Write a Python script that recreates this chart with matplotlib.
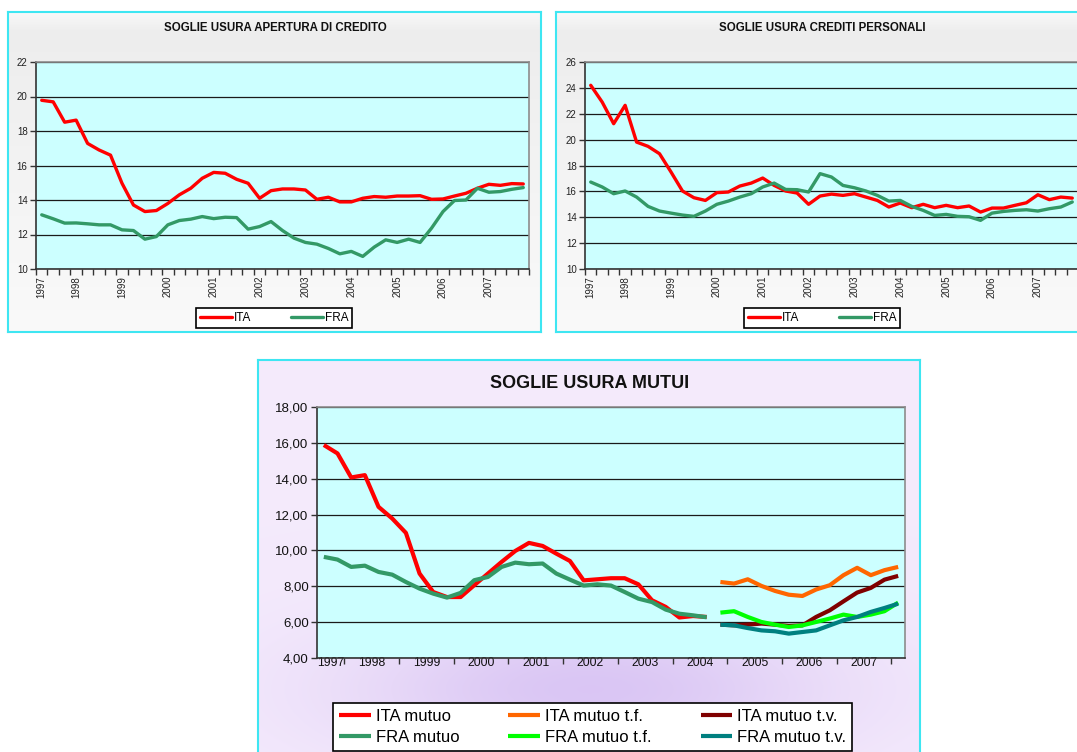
import numpy as np
import matplotlib.pyplot as plt

plt.rcParams['font.family'] = ['Liberation Sans', 'DejaVu Sans']

# quarterly categories, 1997Q2 .. 2007Q4
quarters = [f"{y}Q{q}" for y in range(1997, 2008) for q in range(1, 5)][1:]
years = [str(y) for y in range(1997, 2008)]

# apertura di credito
apertura_ita = [19.78, 19.69, 18.51, 18.63, 17.28, 16.90, 16.60, 14.97, 13.71, 13.33,
                13.39, 13.80, 14.30, 14.68, 15.26, 15.60, 15.55, 15.20, 14.97, 14.10,
                14.54, 14.64, 14.64, 14.58, 14.04, 14.16, 13.89, 13.89, 14.10, 14.20,
                14.16, 14.23, 14.23, 14.25, 14.04, 14.06, 14.23, 14.39, 14.68, 14.91,
                14.85, 14.95, 14.93]
apertura_fra = [13.14, 12.91, 12.66, 12.67, 12.62, 12.56, 12.56, 12.27, 12.23, 11.73,
                11.88, 12.56, 12.81, 12.89, 13.04, 12.92, 13.00, 12.98, 12.31, 12.46,
                12.75, 12.23, 11.79, 11.54, 11.44, 11.19, 10.88, 11.02, 10.73, 11.27,
                11.69, 11.54, 11.73, 11.54, 12.37, 13.33, 13.97, 14.00, 14.68, 14.45,
                14.49, 14.62, 14.72]

# crediti personali
personali_ita = [24.20, 22.90, 21.23, 22.65, 19.81, 19.48, 18.91, 17.50, 16.03, 15.51,
                 15.30, 15.90, 15.95, 16.41, 16.64, 17.03, 16.46, 16.03, 15.87, 15.00,
                 15.64, 15.79, 15.69, 15.82, 15.56, 15.30, 14.79, 15.10, 14.74, 15.00,
                 14.74, 14.92, 14.74, 14.87, 14.40, 14.71, 14.71, 14.92, 15.12, 15.74,
                 15.36, 15.56, 15.48]
personali_fra = [16.72, 16.34, 15.82, 16.03, 15.56, 14.84, 14.48, 14.32, 14.17, 14.07,
                 14.48, 15.00, 15.25, 15.56, 15.82, 16.34, 16.64, 16.15, 16.13, 15.95,
                 17.37, 17.11, 16.46, 16.28, 16.03, 15.69, 15.25, 15.30, 14.84, 14.53,
                 14.14, 14.22, 14.07, 14.04, 13.76, 14.32, 14.45, 14.53, 14.58, 14.48,
                 14.66, 14.79, 15.18]

# mutui: single rate up to 2004Q2, then fixed (t.f.) / variable (t.v.)
mutuo_ita = [15.88, 15.41, 14.07, 14.20, 12.43, 11.78, 10.98, 8.71, 7.68, 7.40,
             7.40, 8.06, 8.71, 9.36, 9.97, 10.42, 10.25, 9.82, 9.41, 8.33,
             8.39, 8.45, 8.45, 8.11, 7.22, 6.85, 6.26, 6.34, 6.29]
mutuo_fra = [9.64, 9.49, 9.08, 9.15, 8.80, 8.65, 8.24, 7.87, 7.59, 7.37,
             7.63, 8.34, 8.52, 9.08, 9.32, 9.23, 9.27, 8.71, 8.37, 8.04,
             8.11, 8.04, 7.68, 7.31, 7.12, 6.70, 6.47, 6.38, 6.27]
mutuo_ita_tf = [8.24, 8.15, 8.39, 8.02, 7.74, 7.53, 7.46, 7.82, 8.06, 8.62, 9.03, 8.62, 8.90, 9.08]
mutuo_ita_tv = [5.86, 5.82, 5.86, 5.92, 5.86, 5.79, 5.82, 6.29, 6.66, 7.16, 7.65, 7.91, 8.37, 8.58]
mutuo_fra_tf = [6.53, 6.61, 6.29, 6.01, 5.86, 5.73, 5.82, 6.01, 6.20, 6.42, 6.29, 6.42, 6.61, 7.09]
mutuo_fra_tv = [5.86, 5.82, 5.67, 5.54, 5.49, 5.36, 5.45, 5.54, 5.82, 6.10, 6.29, 6.57, 6.79, 7.03]
split_start = quarters.index('2004Q3')

W, H = 1077, 752
fig = plt.figure(figsize=(W / 100, H / 100), dpi=100)
fig.patch.set_facecolor('white')

RED = '#ff0000'
GREEN = '#339966'
ORANGE = '#ff6600'
DARKRED = '#800000'
LIME = '#00ff00'
TEAL = '#008080'
PLOT_BG = '#ccffff'

n = len(quarters)
xq = np.arange(n)
year_pos = np.array([[q[:4] for q in quarters].index(y) for y in years])


def px_axes(x0, y0, x1, y1, **kw):
    # axes placed in pixel coordinates (origin top-left)
    return fig.add_axes([x0 / W, 1 - y1 / H, (x1 - x0) / W, (y1 - y0) / H], **kw)


def panel(x0, y0, x1, y1, img):
    bg = px_axes(x0, y0, x1, y1, zorder=0)
    bg.imshow(img, aspect='auto', extent=(0, 1, 0, 1), interpolation='bilinear')
    bg.set_xticks([])
    bg.set_yticks([])
    for s in bg.spines.values():
        s.set_color('#3ee6f2')
        s.set_linewidth(1.5)
    return bg


def grey_gradient(h=200, w=50):
    t = np.linspace(0, 1, h)
    v = np.interp(t, [0, 0.06, 0.25, 1], [0.975, 0.93, 0.94, 0.98])
    return np.repeat(np.repeat(v[:, None], w, axis=1)[:, :, None], 3, axis=2)


def lavender_gradient(h=200, w=200, x0=258, x1=920, y0=360, y1=766):
    xs = np.linspace(x0, x1, w)
    ys = np.linspace(y0, y1, h)
    X, Y = np.meshgrid(xs, ys)
    base = np.array([0.957, 0.918, 0.988])
    glow = np.array([0.855, 0.776, 0.957])
    wgt = np.exp(-((X - 590) / 240) ** 2 - ((Y - 690) / 75) ** 2)
    return base[None, None, :] * (1 - wgt[:, :, None]) + glow[None, None, :] * wgt[:, :, None]


def style_spines(ax):
    ax.spines['left'].set_color('#333333')
    ax.spines['bottom'].set_color('#333333')
    ax.spines['top'].set_color('#8c8c8c')
    ax.spines['right'].set_color('#8c8c8c')
    for s in ax.spines.values():
        s.set_linewidth(1.2)


def top_chart(px0, px1, title, title_x, ita, fra, ylo, yhi, leg_x):
    ax = px_axes(px0, 62, px1, 269, zorder=2)
    ax.set_facecolor(PLOT_BG)
    l1, = ax.plot(xq, ita, color=RED, lw=2.4, label='ITA',
                  solid_joinstyle='round', solid_capstyle='round')
    l2, = ax.plot(xq, fra, color=GREEN, lw=2.4, label='FRA',
                  solid_joinstyle='round', solid_capstyle='round')
    ax.set_xlim(-0.5, n - 0.5)
    ax.set_ylim(ylo, yhi)
    ax.set_yticks(np.arange(ylo, yhi + 1, 2))
    ax.yaxis.grid(True, color='#1a1a1a', lw=0.9)
    ax.set_axisbelow(True)
    ax.set_xticks(year_pos)
    ax.set_xticklabels(years, rotation=90, fontsize=7, color='#222222')
    ax.tick_params(axis='x', which='major', length=0, pad=5)
    ax.set_xticks(np.arange(-0.5, n), minor=True)
    ax.tick_params(axis='x', which='minor', length=4, width=1, color='#333333')
    ax.tick_params(axis='y', labelsize=7, length=4, width=1, color='#333333',
                   pad=2, labelcolor='#222222')
    style_spines(ax)
    fig.text(title_x / W, 1 - 28 / H, title, ha='center', va='center',
             fontsize=8.3, fontweight='bold', color='#111111')
    leg = ax.legend(handles=[l1, l2], loc='center', bbox_to_anchor=(leg_x / W, 1 - 318 / H),
                    bbox_transform=fig.transFigure, ncol=2, fontsize=8.5, frameon=True,
                    fancybox=False, edgecolor='black', framealpha=1, handlelength=2.7,
                    handletextpad=0.15, columnspacing=3.4, borderpad=0.35)
    leg.get_frame().set_linewidth(1.2)
    return ax


# background panels
panel(8, 12, 541, 332, grey_gradient())
panel(556, 12, 1095, 332, grey_gradient())
panel(258, 360, 920, 766, lavender_gradient())

top_chart(36, 529, 'SOGLIE USURA APERTURA DI CREDITO', 275,
          apertura_ita, apertura_fra, 10, 22, 274)
top_chart(585, 1078, 'SOGLIE USURA CREDITI PERSONALI', 822,
          personali_ita, personali_fra, 10, 26, 822)

# mutui chart
ax = px_axes(317, 407, 905, 658, zorder=2)
ax.set_facecolor(PLOT_BG)
kw = dict(lw=3.0, solid_joinstyle='round', solid_capstyle='butt')
h_ita, = ax.plot(xq[:len(mutuo_ita)], mutuo_ita, color=RED, label='ITA mutuo', **kw)
xs = xq[split_start:split_start + len(mutuo_ita_tf)]
h_ita_tf, = ax.plot(xs, mutuo_ita_tf, color=ORANGE, label='ITA mutuo t.f.', **kw)
h_ita_tv, = ax.plot(xs, mutuo_ita_tv, color=DARKRED, label='ITA mutuo t.v.', **kw)
h_fra, = ax.plot(xq[:len(mutuo_fra)], mutuo_fra, color=GREEN, label='FRA mutuo', **kw)
h_fra_tf, = ax.plot(xs, mutuo_fra_tf, color=LIME, label='FRA mutuo t.f.', **kw)
h_fra_tv, = ax.plot(xs, mutuo_fra_tv, color=TEAL, label='FRA mutuo t.v.', **kw)

ax.set_xlim(-0.5, n - 0.5)
ax.set_ylim(4, 18)
yt = np.arange(4, 19, 2)
ax.set_yticks(yt)
ax.set_yticklabels([f"{v:.2f}".replace('.', ',') for v in yt])
ax.yaxis.grid(True, color='#1a1a1a', lw=0.9)
ax.set_axisbelow(True)
ax.set_xticks(year_pos + 0.5)
ax.set_xticklabels(years, fontsize=8.8, color='#111111')
ax.tick_params(axis='x', which='major', length=0, pad=-1)
ax.set_xticks(np.arange(1.5, n, 4), minor=True)
ax.tick_params(axis='x', which='minor', length=4, width=1, color='#333333')
ax.tick_params(axis='y', labelsize=9.5, length=4, width=1, color='#333333', pad=2,
               labelcolor='#111111')
style_spines(ax)

fig.text(590 / W, 1 - 383 / H, 'SOGLIE USURA MUTUI', ha='center', va='center',
         fontsize=13, fontweight='bold', color='#111111')

leg = ax.legend(handles=[h_ita, h_fra, h_ita_tf, h_fra_tf, h_ita_tv, h_fra_tv],
                loc='upper left', bbox_to_anchor=(333 / W, 0, 519 / W, 1 - 703 / H),
                bbox_transform=fig.transFigure, mode='expand', ncol=3, fontsize=12,
                frameon=True, fancybox=False, edgecolor='black', framealpha=1,
                handlelength=1.9, handletextpad=0.3, borderpad=0.35, labelspacing=0.35,
                borderaxespad=0)
leg.get_frame().set_linewidth(1.2)

fig.savefig('out.png', dpi=100, facecolor='white')
